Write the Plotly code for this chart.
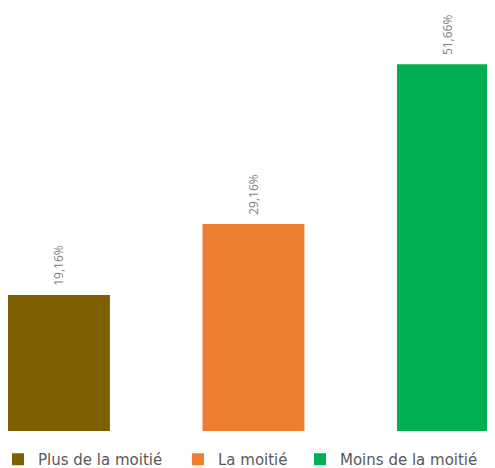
import plotly.graph_objects as go

categories = ["Plus de la moitié", "La moitié", "Moins de la moitié"]
values = [19.16, 29.16, 51.66]
labels = ["19,16%", "29,16%", "51,66%"]
colors = ["#7F6000", "#ED7D31", "#00B050"]

legend_names = ["legend", "legend2", "legend3"]
legend_x = [-0.0205, 0.349, 0.5996]

fig = go.Figure()
for i, (c, v, l, col) in enumerate(zip(categories, values, labels, colors)):
    fig.add_trace(go.Bar(
        x=[i], y=[v], name=c, text=["\u00a0\u00a0" + l],
        textposition="outside", textangle=-90,
        textfont=dict(family="Open Sans", size=12, color="#808080"),
        marker=dict(color=col, line=dict(width=0)),
        width=0.524, cliponaxis=False,
        legend=legend_names[i],
    ))

legend_common = dict(orientation="h", xanchor="left", y=-0.0674, yanchor="middle",
                     font=dict(family="DejaVu Sans", size=15, color="#595959"),
                     bgcolor="rgba(0,0,0,0)")
fig.update_layout(
    width=487, height=460,
    margin=dict(l=0, r=0, t=0, b=37, autoexpand=False),
    paper_bgcolor="white", plot_bgcolor="white",
    xaxis=dict(range=[-0.262, 2.242], visible=False),
    yaxis=dict(range=[0, 59.6], visible=False),
    barmode="overlay",
    showlegend=True,
    legend=dict(x=legend_x[0], **legend_common),
    legend2=dict(x=legend_x[1], **legend_common),
    legend3=dict(x=legend_x[2], **legend_common),
)
fig.write_html("out.html")
